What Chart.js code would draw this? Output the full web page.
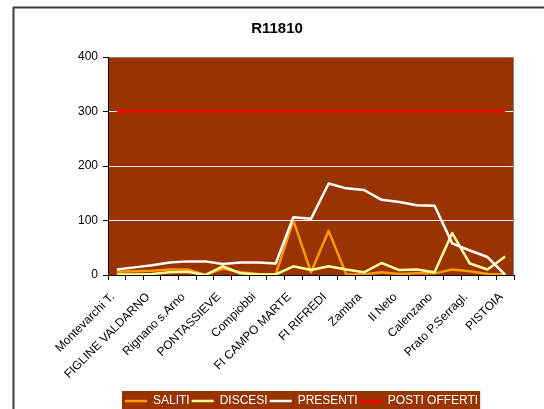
<!DOCTYPE html>
<html>
<head>
<meta charset="utf-8">
<script src="https://cdn.jsdelivr.net/npm/chart.js@4/dist/chart.umd.min.js"></script>
<style>
  html, body { margin: 0; padding: 0; background: #fff; overflow: hidden; }
  canvas { display: block; }
</style>
</head>
<body>
<canvas id="chart" width="544" height="409"></canvas>
<script>
// stations along the route (only every other one gets a label on the axis)
const stations = [
  "Montevarchi T.", "S.Giovanni V.no", "FIGLINE VALDARNO", "Incisa V.no",
  "Rignano s.Arno", "S.Ellero", "PONTASSIEVE", "Sieci", "Compiobbi",
  "FI Rovezzano", "FI CAMPO MARTE", "FI S.M.N.", "FI RIFREDI", "FI Castello",
  "Zambra", "Sesto F.no", "Il Neto", "Settimello", "Calenzano", "Prato C.le",
  "Prato P.Serragl.", "Montale-Agliana", "PISTOIA"
];

const saliti   = [6, 7, 8, 10, 10, 0, 12, 5, 2, 1, 100, 5, 81, 1, 1, 5, 2, 3, 3, 10, 7, 2, 1];
const discesi  = [1, 1, 2, 5, 6, 0, 16, 3, 1, 1, 16, 9, 16, 10, 5, 22, 9, 10, 5, 77, 21, 10, 34];
const presenti = [10, 14, 18, 23, 25, 25, 20, 23, 23, 21, 106, 103, 168, 159, 156, 138, 134, 128, 127, 58, 45, 33, 0];
const postiOfferti = [300, 300, 300, 300, 300, 300, 300, 300, 300, 300, 300, 300,
                      300, 300, 300, 300, 300, 300, 300, 300, 300, 300, 300];

const yMin = 0;
const yMax = 400;
const yStep = 100;

const PLOT_BG = "#993300";
const LEGEND_START_X = 125;

Chart.defaults.font.family = '"Liberation Sans", Arial, sans-serif';
Chart.defaults.color = "#000";

// where the legend row starts and ends (same maths as the legend's own draw)
function legendRow(lg) {
  const pad = lg.options.labels.padding;
  const x0 = (lg.left + pad + lg.right - lg.lineWidths[0]) / 2;
  const x1 = x0 + lg.lineWidths[0] - pad;
  return [x0, x1];
}

// background of plot + legend, outer frame, legend placement
const frame = {
  id: "frame",
  afterLayout(chart) {
    const lg = chart.legend;
    const shift = LEGEND_START_X - legendRow(lg)[0];
    lg.left += shift;
    lg.right += shift;
    lg.top += 8;
    lg.bottom += 8;
  },
  beforeDraw(chart) {
    const { ctx, chartArea: a } = chart;
    ctx.save();
    ctx.fillStyle = PLOT_BG;
    ctx.fillRect(a.left, a.top, a.right - a.left, a.bottom - a.top);

    const lg = chart.legend;
    const [x0, x1] = legendRow(lg);
    ctx.fillRect(x0 - 3, lg.top - 2, x1 - x0 + 5, chart.height);

    ctx.strokeStyle = "#3a3a3a";
    ctx.lineWidth = 2;
    ctx.strokeRect(13.5, 7.5, 800, 800);
    ctx.restore();
  },
  beforeDatasetsDraw(chart) {
    const { ctx, chartArea: a } = chart;
    ctx.save();
    ctx.strokeStyle = "#808080";
    ctx.lineWidth = 1;
    ctx.beginPath();
    ctx.moveTo(a.right - 0.5, a.top);
    ctx.lineTo(a.right - 0.5, a.bottom);
    ctx.stroke();
    ctx.restore();
  }
};

const ctx = document.getElementById("chart").getContext("2d");
const chart = new Chart(ctx, {
  type: "line",
  data: {
    labels: stations,
    datasets: [
      { label: "SALITI", data: saliti, borderColor: "#FF9900", backgroundColor: "#FF9900", borderWidth: 2.5, order: 4 },
      { label: "DISCESI", data: discesi, borderColor: "#FFFF99", backgroundColor: "#FFFF99", borderWidth: 2.5, order: 3 },
      { label: "PRESENTI", data: presenti, borderColor: "#FFFFFF", backgroundColor: "#FFFFFF", borderWidth: 2.5, order: 2 },
      { label: "POSTI OFFERTI", data: postiOfferti, borderColor: "#FF0000", backgroundColor: "#FF0000", borderWidth: 3, order: 1 }
    ]
  },
  options: {
    responsive: false,
    animation: false,
    elements: {
      point: { radius: 0, hoverRadius: 0 },
      line: { tension: 0, fill: false, borderJoinStyle: "round" }
    },
    layout: { padding: { left: 14, right: 4, top: 8, bottom: 0 } },
    plugins: {
      title: {
        display: true,
        text: "R11810",
        color: "#000",
        font: { size: 15, weight: "bold" },
        padding: { top: 12, bottom: 19 }
      },
      legend: {
        display: true,
        position: "bottom",
        fullSize: false,
        reverse: true,
        labels: {
          color: "#FFFFFF",
          font: { size: 12 },
          usePointStyle: true,
          pointStyle: "line",
          pointStyleWidth: 22,
          padding: 2
        }
      },
      tooltip: { enabled: false }
    },
    scales: {
      x: {
        offset: true,
        grid: {
          offset: true,
          drawOnChartArea: false,
          drawTicks: true,
          tickLength: 5,
          color: "#000"
        },
        border: { color: "#000", width: 1 },
        ticks: {
          autoSkip: false,
          minRotation: 45,
          maxRotation: 45,
          padding: 10,
          labelOffset: -4,
          font: { size: 12 },
          color: "#000",
          callback: function(value, index) {
            return index % 2 === 0 ? stations[index] : "";
          }
        },
        afterFit(scale) { scale.height = 110; }
      },
      y: {
        min: yMin,
        max: yMax,
        grid: {
          color: function(c) {
            if (c.tick.value === yMax) return "#808080";
            if (c.tick.value === yMin) return "#000";
            return "#FFFFFF";
          },
          tickColor: "#000",
          tickLength: 5,
          lineWidth: 1
        },
        border: { color: "#000", width: 1 },
        ticks: {
          stepSize: yStep,
          padding: 5,
          font: { size: 12 },
          color: "#000"
        },
        afterFit(scale) { scale.width = 94; }
      },
      yR: {
        type: "linear",
        position: "right",
        display: true,
        grid: { display: false },
        border: { display: false },
        ticks: { display: false },
        afterFit(scale) { scale.width = 26; }
      }
    }
  },
  plugins: [frame]
});
</script>
</body>
</html>
